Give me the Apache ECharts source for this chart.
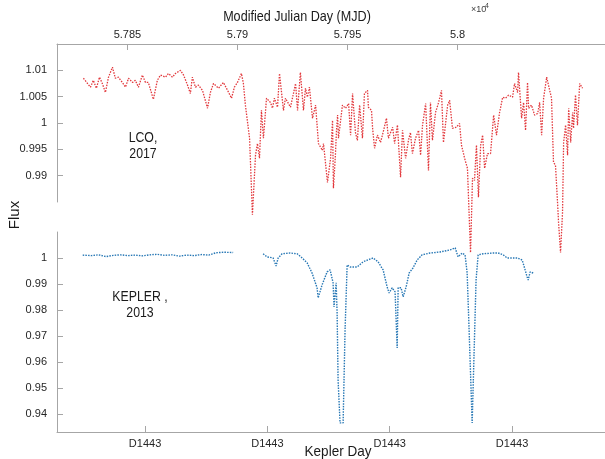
<!DOCTYPE html>
<html>
<head>
<meta charset="utf-8">
<script src="https://cdn.jsdelivr.net/npm/echarts@6/dist/echarts.min.js"></script>
<style>
html,body{margin:0;padding:0;background:#fff;}
#chart{width:605px;height:459px;}
</style>
</head>
<body>
<div id="chart"></div>
<script>
// ---- LCO 2017 (top panel): Modified Julian Day vs flux ----
const lcoMjd = [57830.0,57830.9,57833.2,57834.5,57835.9,57837.3,57838.6,57840.0,57841.4,57843.2,
57844.5,57845.9,57847.7,57849.1,57850.5,57852.3,57853.6,57855.0,57856.8,57858.2,
57859.5,57861.8,57863.6,57865.0,57867.3,57868.6,57870.5,57871.8,57874.1,57875.5,
57877.3,57878.6,57879.5,57880.9,57882.3,57884.1,57886.4,57887.7,57889.1,57891.4,
57893.6,57895.5,57897.3,57898.6,57900.0,57901.8,57902.7,57903.6,57904.5,57905.5,
57906.8,57908.2,57909.1,57910.0,57910.9,57911.8,57913.2,57914.1,57915.0,57915.9,
57916.8,57918.2,57919.1,57920.9,57921.8,57924.1,57926.4,57927.3,57928.6,57930.0,
57930.9,57931.8,57932.7,57934.1,57935.5,57936.8,57938.6,57939.1,57940.9,57942.3,
57943.2,57943.6,57944.5,57945.0,57945.5,57945.9,57947.7,57949.1,57950.5,57951.4,
57952.3,57953.6,57954.5,57955.5,57956.8,57957.7,57959.1,57959.5,57960.9,57961.4,
57962.3,57963.6,57965.0,57966.4,57967.7,57968.6,57970.5,57971.4,57972.7,57974.1,
57975.0,57976.4,57977.7,57978.6,57979.5,57980.9,57982.3,57983.2,57984.1,57985.5,
57986.8,57987.7,57988.6,57990.0,57991.4,57992.7,57993.6,57995.5,57996.4,57997.7,
57999.5,58000.9,58001.8,58003.2,58004.5,58005.9,58006.8,58007.7,58008.6,58009.5,
58010.5,58011.4,58012.3,58013.6,58015.0,58016.4,58017.7,58019.1,58020.5,58021.8,
58023.2,58025.0,58025.9,58027.3,58027.7,58029.1,58030.0,58030.9,58031.8,58032.3,
58033.6,58035.0,58036.4,58037.3,58038.2,58039.1,58040.5,58041.4,58042.7,58043.6,
58044.5,58045.5,58045.9,58046.8,58047.7,58048.2,58049.1,58050.0,58050.5,58051.4,
58052.3,58052.7,58053.6,58054.5,58055.5,58056.8];
const lcoFlux = [1.0085,1.0085,1.0068,1.0081,1.0066,1.0087,1.0075,1.0058,1.0087,1.0106,
1.0085,1.0087,1.0077,1.0068,1.0085,1.0077,1.0081,1.0068,1.0091,1.0077,
1.0077,1.0045,1.0081,1.0091,1.0087,1.0094,1.0087,1.0094,1.0100,1.0091,
1.0072,1.0056,1.0087,1.0068,1.0072,1.0062,1.0028,1.0058,1.0075,1.0066,
1.0077,1.0062,1.0047,1.0068,1.0077,1.0094,1.0075,1.0034,1.0034,0.9971,
0.9826,0.9939,0.9961,0.9933,1.0024,0.9971,1.0047,1.0049,1.0039,1.0028,
1.0047,1.0030,1.0094,1.0024,1.0047,1.0030,1.0075,1.0024,1.0096,1.0024,
1.0066,1.0049,1.0068,1.0009,1.0034,0.9961,0.9948,0.9961,0.9887,0.9933,
1.0005,0.9876,0.9939,0.9986,1.0015,0.9971,1.0034,1.0028,1.0037,0.9977,
1.0056,0.9982,0.9967,1.0034,0.9971,1.0056,1.0062,1.0030,1.0024,0.9990,
0.9952,0.9977,0.9963,0.9986,1.0009,0.9971,0.9992,0.9961,0.9996,0.9897,
0.9986,0.9933,0.9967,0.9982,0.9942,0.9971,0.9986,0.9939,0.9996,1.0037,
0.9910,1.0039,0.9967,1.0020,1.0039,1.0062,0.9963,1.0034,1.0043,0.9990,
0.9992,0.9999,0.9958,0.9933,0.9914,0.9754,0.9895,0.9891,0.9958,0.9859,
0.9958,0.9977,0.9914,0.9942,0.9942,1.0015,0.9977,1.0020,1.0049,1.0047,
1.0053,1.0049,1.0075,1.0058,1.0096,1.0009,1.0039,0.9986,1.0077,1.0028,
1.0034,1.0015,1.0018,1.0039,0.9977,1.0047,1.0087,1.0085,1.0047,0.9925,
0.9920,0.9844,0.9811,0.9754,0.9830,0.9963,0.9996,0.9939,1.0028,0.9963,
1.0020,0.9990,1.0053,0.9996,1.0075,1.0066];

// ---- KEPLER 2013 (bottom panel): Kepler day vs flux, two segments ----
const keplerDay1 = [1434.9,1435.6,1436.2,1436.8,1437.4,1438.0,1438.6,1439.2,1439.8,1440.4,
1441.0,1441.6,1442.2,1442.8,1443.4,1444.0,1444.6,1445.2,1445.8,1446.4,1447.2];
const keplerFlux1 = [1.0012,1.0010,1.0013,1.0006,1.0011,1.0013,1.0010,1.0012,1.0009,1.0013,
1.0015,1.0011,1.0013,1.0008,1.0012,1.0010,1.0014,1.0012,1.0021,1.0023,1.0022];
const keplerDay2 = [1449.65,1449.98,1450.47,1450.71,1450.88,1451.20,1451.86,1452.43,1452.84,1453.25,
1453.65,1454.06,1454.15,1454.47,1454.88,1455.13,1455.37,1455.45,1455.62,1455.70,
1455.78,1455.94,1456.19,1456.35,1456.52,1456.76,1457.33,1457.82,1458.64,1459.05,
1459.46,1459.79,1459.95,1460.20,1460.44,1460.61,1460.69,1460.93,1461.10,1461.34,
1461.59,1461.91,1462.24,1462.65,1463.30,1464.12,1464.94,1465.35,1465.59,1465.92,
1466.16,1466.33,1466.49,1466.74,1466.90,1467.06,1467.23,1467.64,1468.45,1468.86,
1469.27,1469.60,1470.42,1470.83,1471.07,1471.23,1471.32,1471.48,1471.73];
const keplerFlux2 = [1.0017,1.0005,1.0001,0.9970,1.0001,1.0017,1.0020,1.0017,1.0001,0.9982,
0.9943,0.9886,0.9847,0.9897,0.9947,0.9955,0.9905,0.9812,0.9905,0.9789,
0.9530,0.9365,0.9365,0.9724,0.9974,0.9966,0.9966,0.9986,1.0001,0.9986,
0.9955,0.9889,0.9866,0.9886,0.9870,0.9654,0.9886,0.9886,0.9851,0.9889,
0.9943,0.9963,0.9993,1.0013,1.0020,1.0024,1.0032,1.0040,1.0005,1.0020,
1.0013,0.9943,0.9724,0.9365,0.9365,0.9916,1.0013,1.0017,1.0020,1.0020,
1.0013,1.0001,1.0001,0.9993,0.9955,0.9928,0.9916,0.9947,0.9943];

// ---- tick values / labels ----
const mjdTicks = [57850, 57900, 57950, 58000];
const lcoFluxTicks = [0.99, 0.995, 1, 1.005, 1.01];
const keplerTicks = [1440, 1450, 1460, 1470];
const keplerTickLabels = ['D1443', 'D1443', 'D1443', 'D1443'];
const keplerFluxTicks = [0.94, 0.95, 0.96, 0.97, 0.98, 0.99, 1];

const zip = (a, b) => a.map((v, i) => [v, b[i]]);
const fmtNum = v => String(parseFloat(Number(v).toFixed(4)));

const FONT = 'Liberation Sans';
const axisColor = '#a6a6a6';
const labelStyle = { color: '#262626', fontSize: 11, fontFamily: FONT };

const chart = echarts.init(document.getElementById('chart'), null, { renderer: 'canvas' });
chart.setOption({
  backgroundColor: '#ffffff',
  animation: false,
  grid: [
    { left: 57, right: 0, top: 44, height: 158 },
    { left: 57, right: 0, top: 232, height: 200 }
  ],
  xAxis: [
    {
      gridIndex: 0, type: 'value', position: 'top', min: 57818, max: 58067,
      axisLine: { show: true, lineStyle: { color: axisColor, width: 1 } },
      axisTick: { show: true, inside: true, length: 6, lineStyle: { color: axisColor }, customValues: mjdTicks },
      axisLabel: Object.assign({ margin: 4, customValues: mjdTicks, formatter: v => fmtNum(v / 10000) }, labelStyle),
      splitLine: { show: false }
    },
    {
      gridIndex: 1, type: 'value', position: 'bottom', min: 1432.8, max: 1477.6,
      axisLine: { show: true, lineStyle: { color: axisColor, width: 1 } },
      axisTick: { show: true, inside: true, length: 6, lineStyle: { color: axisColor }, customValues: keplerTicks },
      axisLabel: Object.assign({ margin: 6, customValues: keplerTicks,
        formatter: v => { const i = keplerTicks.indexOf(Math.round(v)); return i >= 0 ? keplerTickLabels[i] : ''; } }, labelStyle),
      splitLine: { show: false }
    }
  ],
  yAxis: [
    {
      gridIndex: 0, type: 'value', min: 0.985, max: 1.015,
      axisLine: { show: true, lineStyle: { color: axisColor, width: 1 } },
      axisTick: { show: true, inside: true, length: 6, lineStyle: { color: axisColor }, customValues: lcoFluxTicks },
      axisLabel: Object.assign({ margin: 10, customValues: lcoFluxTicks, formatter: v => fmtNum(v) }, labelStyle),
      splitLine: { show: false }
    },
    {
      gridIndex: 1, type: 'value', min: 0.933, max: 1.0101,
      axisLine: { show: true, lineStyle: { color: axisColor, width: 1 } },
      axisTick: { show: true, inside: true, length: 6, lineStyle: { color: axisColor }, customValues: keplerFluxTicks },
      axisLabel: Object.assign({ margin: 10, customValues: keplerFluxTicks, formatter: v => fmtNum(v) }, labelStyle),
      splitLine: { show: false }
    }
  ],
  series: [
    {
      name: 'LCO 2017', type: 'line', xAxisIndex: 0, yAxisIndex: 0, clip: false,
      data: zip(lcoMjd, lcoFlux), showSymbol: false, symbol: 'none',
      lineStyle: { color: '#e2383c', width: 1.3, type: [1.5, 1.3] }
    },
    {
      name: 'KEPLER 2013 a', type: 'line', xAxisIndex: 1, yAxisIndex: 1, clip: false,
      data: zip(keplerDay1, keplerFlux1), showSymbol: false, symbol: 'none',
      lineStyle: { color: '#2878b5', width: 1.4, type: [1.5, 1.2] }
    },
    {
      name: 'KEPLER 2013 b', type: 'line', xAxisIndex: 1, yAxisIndex: 1, clip: false,
      data: zip(keplerDay2, keplerFlux2), showSymbol: false, symbol: 'none',
      lineStyle: { color: '#2878b5', width: 1.4, type: [1.5, 1.2] }
    }
  ],
  graphic: [
    { type: 'text', x: 297, y: 17, scaleX: 0.84,
      style: { text: 'Modified Julian Day (MJD)', fill: '#1a1a1a', font: '15px ' + FONT, align: 'center', verticalAlign: 'middle' } },
    { type: 'text', x: 471, y: 10,
      style: { text: '\u00d710', fill: '#404040', font: '9px ' + FONT, verticalAlign: 'middle' } },
    { type: 'text', x: 485, y: 6,
      style: { text: '4', fill: '#404040', font: '7px ' + FONT, verticalAlign: 'middle' } },
    { type: 'text', x: 338, y: 452, scaleX: 0.9,
      style: { text: 'Kepler Day', fill: '#1a1a1a', font: '15px ' + FONT, align: 'center', verticalAlign: 'middle' } },
    { type: 'text', x: 15, y: 215, rotation: Math.PI / 2,
      style: { text: 'Flux', fill: '#1a1a1a', font: '15px ' + FONT, align: 'center', verticalAlign: 'middle' } },
    { type: 'text', x: 143, y: 146, scaleX: 0.82,
      style: { text: 'LCO,\n2017', fill: '#1a1a1a', font: '15px ' + FONT, align: 'center', verticalAlign: 'middle', lineHeight: 16 } },
    { type: 'text', x: 140, y: 305, scaleX: 0.82,
      style: { text: 'KEPLER ,\n2013', fill: '#1a1a1a', font: '15px ' + FONT, align: 'center', verticalAlign: 'middle', lineHeight: 16 } }
  ]
});
</script>
</body>
</html>
